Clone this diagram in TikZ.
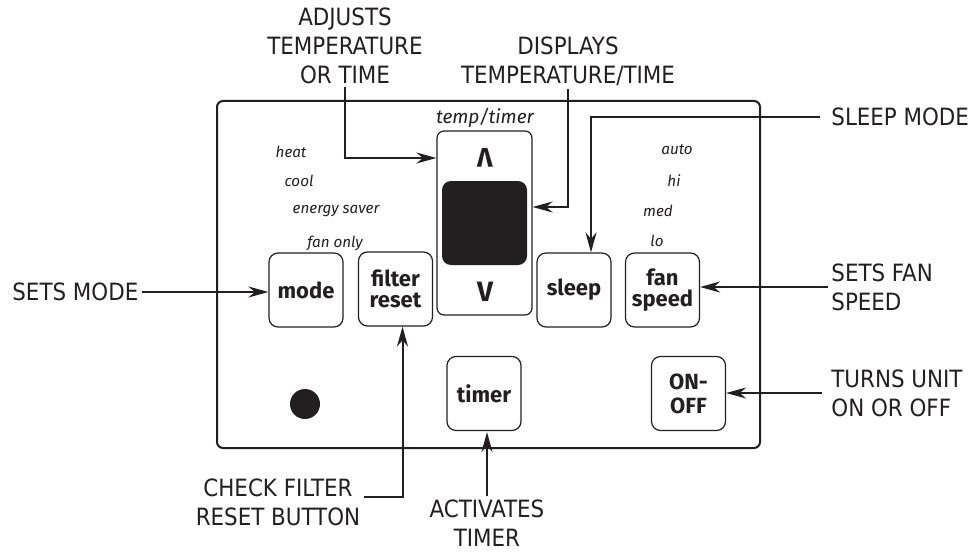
\documentclass[tikz,border=0pt]{standalone}
\usepackage{fontspec}
\setmainfont{DejaVu Sans Condensed}
\newfontfamily\btnfont{Fira Sans}
\usetikzlibrary{arrows.meta}
\definecolor{ink}{HTML}{231F20}

\begin{document}
\begin{tikzpicture}[x=0.5pt, y=-0.5pt, >={Stealth[length=10pt,width=5.5pt]},
    lbl/.style={font=\fontsize{11.9}{14.5}\selectfont, text=ink, inner sep=1.5pt},
    btn/.style={draw=ink, line width=0.6pt, rounded corners=4.5pt, minimum width=37pt,
        minimum height=37pt, inner sep=0pt, align=center, text=ink,
        font=\btnfont\bfseries\fontsize{11}{10.5}\selectfont},
    note/.style={font=\btnfont\itshape\fontsize{7.6}{9}\selectfont, text=ink},
    conn/.style={->, line width=1pt, draw=ink}]
    \useasboundingbox (0,0) rectangle (968,551);

    % panel
    \draw[ink, line width=1pt, rounded corners=3pt] (217,101) rectangle (760,448);

    % display pad
    \node[draw=ink, line width=0.6pt, rounded corners=3.5pt, minimum width=47.5pt, minimum height=92pt] (pad) at (484.5,223) {};
    \node[fill=ink, rounded corners=4.5pt, minimum width=42.5pt, minimum height=42pt] (screen) at (484.5,223) {};
    \node[text=ink, font=\btnfont\bfseries\fontsize{13.5}{10}\selectfont, rotate=180, inner sep=0pt] (up) at (485,158) {V};
    \node[text=ink, font=\btnfont\bfseries\fontsize{14}{10}\selectfont, inner sep=0pt] (down) at (485,292) {V};
    \node[note, font=\btnfont\itshape\fontsize{9.5}{10}\selectfont] (temptimer) at (485,118) {temp/timer};

    % buttons
    \node[btn] (mode) at (306,290) {mode};
    \node[btn] (filter) at (395.5,289) {filter\\reset};
    \node[btn] (sleep) at (574,290) {sleep};
    \node[btn] (fan) at (662.5,290) {fan\\speed};
    \node[btn] (timer) at (484,393.5) {timer};
    \node[btn, font=\btnfont\bfseries\fontsize{11}{12}\selectfont] (onoff) at (688.5,393.5) {ON-\\OFF};
    \node[circle, fill=ink, minimum size=15pt, inner sep=0pt] (led) at (305,404) {};

    % mode and fan settings
    \node[note] (heat) at (291,152) {heat};
    \node[note] (cool) at (299,181) {cool};
    \node[note] (saver) at (336,211) {energy saver};
    \node[note] (fanonly) at (335,243) {fan only};
    \node[note] (auto) at (677,150) {auto};
    \node[note] (hi) at (674,181) {hi};
    \node[note] (med) at (658,211) {med};
    \node[note] (lo) at (657,241) {lo};

    % callouts
    \node[lbl, anchor=west] (setsmode) at (9,292) {SETS MODE};
    \node[lbl, align=center] (adjusts) at (345,46) {ADJUSTS\\TEMPERATURE\\OR TIME};
    \node[lbl, align=center] (displays) at (568,61) {DISPLAYS\\TEMPERATURE/TIME};
    \node[lbl, anchor=west] (sleepmode) at (828,117) {SLEEP MODE};
    \node[lbl, anchor=west, align=left] (setsfan) at (828,287) {SETS FAN\\SPEED};
    \node[lbl, anchor=west, align=left] (turns) at (828,393) {TURNS UNIT\\ON OR OFF};
    \node[lbl, align=center] (checkfilter) at (278,502) {CHECK FILTER\\RESET BUTTON};
    \node[lbl, align=center] (activates) at (487,523) {ACTIVATES\\TIMER};

    \draw[conn] (setsmode.east) -- (mode.west |- setsmode.east);
    \draw[conn] (adjusts.south) |- (pad.west |- up);
    \draw[conn] (displays.south) |- ([yshift=8pt]pad.east);
    \draw[conn] ([xshift=-4pt]sleepmode.west) -| ([xshift=8.5pt]sleep.north);
    \draw[conn] (setsfan.west) -- (fan.east |- setsfan.west);
    \draw[conn] ([xshift=-3pt]turns.west) -- (onoff.east |- turns.west);
    \draw[conn] ([yshift=2.5pt]checkfilter.east) -| ([xshift=3.5pt]filter.south);
    \draw[conn] (activates.north) -- ([yshift=-0.5pt]activates.north |- timer.south);
\end{tikzpicture}
\end{document}
